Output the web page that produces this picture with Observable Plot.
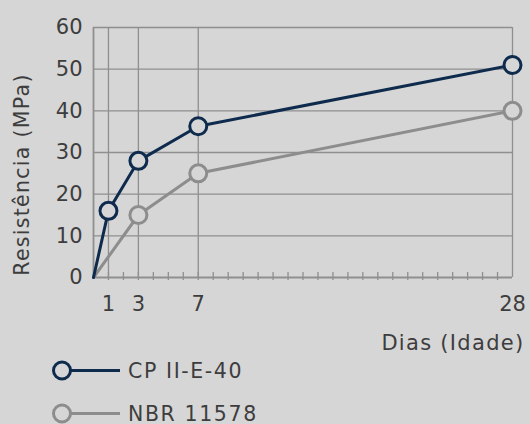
<!DOCTYPE html>
<html><head><meta charset="utf-8">
<script src="https://cdn.jsdelivr.net/npm/d3@7"></script>
<script src="https://cdn.jsdelivr.net/npm/@observablehq/plot@0.6"></script>
<style>
html,body{margin:0;padding:0;background:#d6d6d6;}
body{font-family:"DejaVu Sans",sans-serif;color:#3d3d3d;width:530px;height:424px;overflow:hidden;position:relative;}
#legend{position:absolute;left:0;top:349px;}
.row{display:flex;align-items:center;height:43px;}
.row span{font-size:20.5px;letter-spacing:1.6px;margin-left:-2px;}
</style></head><body>
<div id="chart"></div>
<div id="legend"></div>
<script>
const seriesNames = ["CP II-E-40", "NBR 11578"];
const seriesColors = ["#0e2b4d", "#8d8d8d"];
const cpDays = [0, 1, 3, 7, 28];
const cpValues = [0, 16, 28, 36.3, 51];
const nbrDays = [0, 3, 7, 28];
const nbrValues = [0, 15, 25, 40];
const xTickLabels = [1, 3, 7, 28];
const yTickLabels = [0, 10, 20, 30, 40, 50, 60];
const minorTicks = d3.range(1, 28);
const yLabel = "Resistência (MPa)";
const xLabel = "Dias (Idade)";

const cp = cpDays.map((d, i) => ({day: d, value: cpValues[i], series: seriesNames[0]}));
const nbr = nbrDays.map((d, i) => ({day: d, value: nbrValues[i], series: seriesNames[1]}));
const bg = "#d6d6d6";
const grid = "#8f8f8f";

const chart = Plot.plot({
  width: 530, height: 362,
  marginLeft: 93, marginRight: 18, marginTop: 27, marginBottom: 85,
  x: {domain: [0, 28]},
  y: {domain: [0, 60]},
  style: {background: "transparent", fontFamily: "DejaVu Sans, sans-serif", fontSize: "21px", color: "#3d3d3d"},
  marks: [
    Plot.ruleY(yTickLabels.slice(1), {stroke: grid, strokeWidth: 1.3, strokeOpacity: 1}),
    Plot.ruleX(xTickLabels, {stroke: grid, strokeWidth: 1.3, strokeOpacity: 1}),
    Plot.ruleX([0], {stroke: grid, strokeWidth: 1.8, strokeOpacity: 1}),
    Plot.ruleX(minorTicks, {stroke: grid, strokeWidth: 1.3, strokeOpacity: 1, insetTop: 245, insetBottom: -3}),
    Plot.ruleY([0], {stroke: grid, strokeWidth: 2, strokeOpacity: 1}),
    Plot.line(nbr, {x: "day", y: "value", stroke: seriesColors[1], strokeWidth: 3}),
    Plot.line(cp, {x: "day", y: "value", stroke: seriesColors[0], strokeWidth: 3}),
    Plot.dot(nbr.filter(d => d.day > 0), {x: "day", y: "value", r: 8.5, stroke: seriesColors[1], strokeWidth: 3, fill: bg}),
    Plot.dot(cp.filter(d => d.day > 0), {x: "day", y: "value", r: 8.5, stroke: seriesColors[0], strokeWidth: 3, fill: bg}),
    Plot.axisX({ticks: xTickLabels, tickSize: 0, tickPadding: 19, label: null, fontSize: 21}),
    Plot.axisY({ticks: yTickLabels, tickSize: 0, tickPadding: 11, label: null, fontSize: 21}),
    Plot.text([yLabel], {frameAnchor: "left", textAnchor: "middle", lineAnchor: "middle", rotate: -90, dx: -71, dy: 22, fontSize: 20.5, fill: "#3d3d3d"}),
    Plot.text([xLabel], {frameAnchor: "bottom-right", textAnchor: "end", lineAnchor: "middle", dx: 12, dy: 66, fontSize: 21, fill: "#3d3d3d"})
  ]
});
document.getElementById("chart").appendChild(chart);
d3.select(chart).selectAll("text")
  .filter(function() { return this.textContent === yLabel || this.textContent === xLabel; })
  .style("letter-spacing", "1.3px");

const legend = document.getElementById("legend");
seriesNames.forEach((name, i) => {
  const row = document.createElement("div");
  row.className = "row";
  row.innerHTML = `<svg width="130" height="43"><line x1="70" x2="120" y1="21.5" y2="21.5" stroke="${seriesColors[i]}" stroke-width="3"/><circle cx="62" cy="21.5" r="8.5" fill="${bg}" stroke="${seriesColors[i]}" stroke-width="3"/></svg><span>${name}</span>`;
  legend.appendChild(row);
});
</script>
</body></html>
